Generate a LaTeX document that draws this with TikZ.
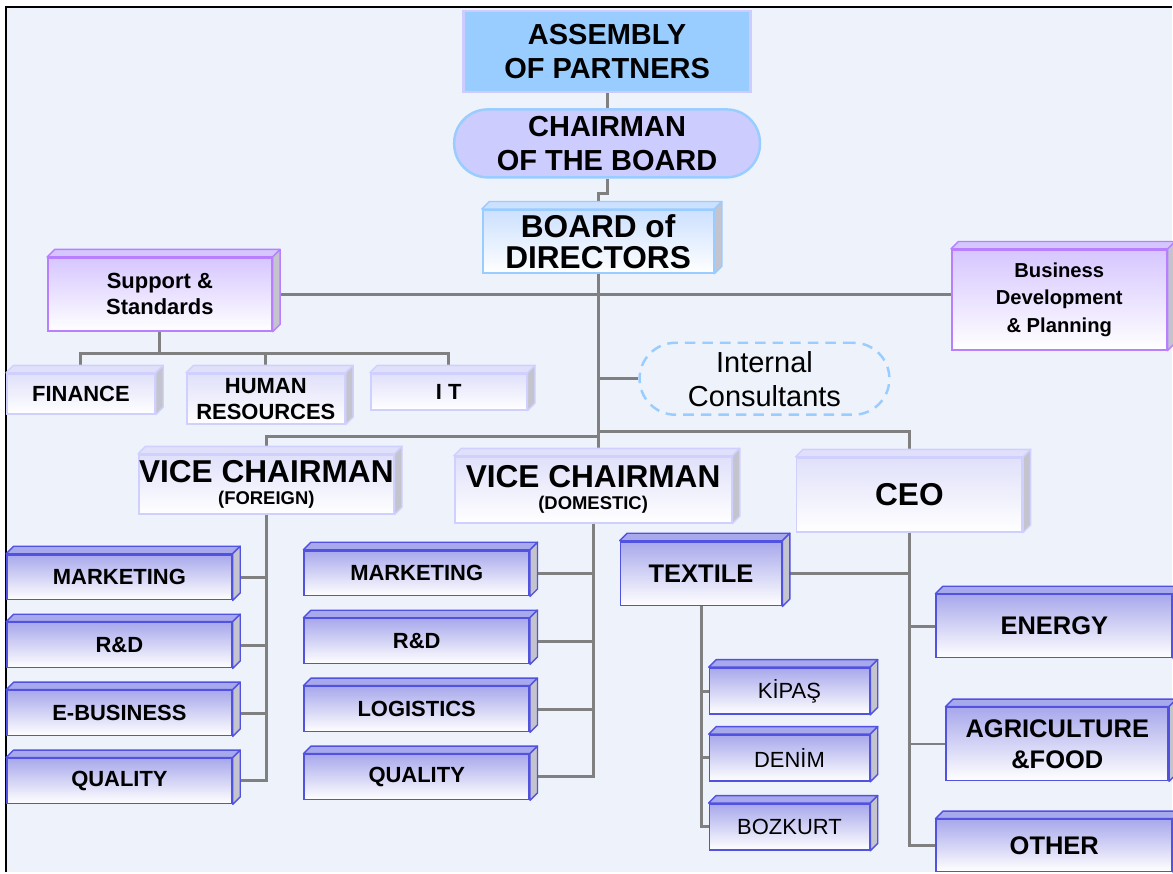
\documentclass[tikz,border=0pt]{standalone}
\usepackage{fontspec}
\setmainfont{Liberation Sans}

\definecolor{paper}{RGB}{238,242,251}
\definecolor{wire}{RGB}{128,128,128}
\definecolor{skyblue}{RGB}{153,204,255}
\definecolor{lilac}{RGB}{204,204,255}
\definecolor{boardtop}{RGB}{204,224,255}
\definecolor{deptline}{RGB}{82,82,224}
\definecolor{depttop}{RGB}{168,168,236}
\definecolor{officeline}{RGB}{208,208,255}
\definecolor{officetop}{RGB}{224,224,250}
\definecolor{staffline}{RGB}{184,128,255}
\definecolor{stafftop}{RGB}{214,198,255}
\definecolor{sidegray}{RGB}{196,196,206}

\tikzset{
  link/.style={draw=wire, line width=1.7pt},
  card/.style={rectangle, inner sep=0pt, align=center, line width=1pt},
  dept/.style={card, draw=deptline, top color=depttop, bottom color=white,
    minimum width=4.5cm, minimum height=0.9cm,
    font=\bfseries\fontsize{12.5}{14.8}\selectfont},
  bigdept/.style={dept, font=\bfseries\fontsize{14.5}{17.6}\selectfont},
  firm/.style={dept, minimum width=3.2cm, minimum height=0.92cm,
    font=\fontsize{12.5}{14.8}\selectfont},
  office/.style={card, draw=officeline, top color=officetop, bottom color=white,
    font=\bfseries\fontsize{12.5}{14.8}\selectfont},
  staff/.style={card, draw=staffline, top color=stafftop, bottom color=white,
    font=\bfseries\fontsize{12.5}{14.8}\selectfont},
}

% top and right faces of a box node: node, top colour, line colour
\newcommand{\boxtop}[3]{%
  \filldraw[fill=#2, draw=#3, line width=0.8pt, line join=round]
    (#1.north west) -- ++(0.15,0.15) -- ([shift={(0.15,0.15)}]#1.north east)
    -- (#1.north east) -- cycle;
  \filldraw[fill=sidegray, draw=#3, line width=0.8pt, line join=round]
    (#1.north east) -- ++(0.15,0.15) -- ([shift={(0.15,0.15)}]#1.south east)
    -- (#1.south east) -- cycle;
}

\begin{document}
\begin{tikzpicture}
  % page and frame
  \fill[white] (0,0) rectangle (23.46,17.46);
  \fill[paper] (0.12,0) rectangle (23.46,17.32);
  \draw[line width=0.9pt] (0.12,0) -- (0.12,17.32) -- (23.46,17.32);
  \useasboundingbox (0,0) rectangle (23.46,17.46);

  % top of the chart
  \node[card, draw=lilac, line width=1.4pt, fill=skyblue, minimum width=5.74cm, minimum height=1.62cm,
    font=\bfseries\fontsize{16.5}{19.4}\selectfont] (assembly) at (12.15,16.43) {ASSEMBLY\\OF PARTNERS};
  \node[card, draw=skyblue, line width=1.4pt, fill=lilac, rounded corners=0.67cm, minimum width=6.12cm,
    minimum height=1.36cm, font=\bfseries\fontsize{16.5}{19.4}\selectfont] (chairman) at (12.15,14.59) {CHAIRMAN\\OF THE BOARD};
  \node[card, draw=skyblue, top color=boardtop, bottom color=white, minimum width=4.62cm, minimum height=1.26cm,
    font=\bfseries\fontsize{18}{17.6}\selectfont] (board) at (11.97,12.63) {BOARD of\\DIRECTORS};

  % staff units
  \node[staff, minimum width=4.48cm, minimum height=1.46cm] (support) at (3.2,11.57) {Support \&\\Standards};
  \node[staff, minimum width=4.3cm, minimum height=2cm, font=\bfseries\fontsize{11.5}{15.4}\selectfont]
    (business) at (21.2,11.46) {Business\\Development\\\& Planning};
  \node[office, minimum width=2.96cm, minimum height=0.8cm] (finance) at (1.62,9.58) {FINANCE};
  \node[office, minimum width=3.16cm, minimum height=1cm] (human) at (5.32,9.48) {HUMAN\\RESOURCES};
  \node[office, minimum width=3.12cm, minimum height=0.72cm] (it) at (8.98,9.62) {I T};
  \node[draw=skyblue, line width=1.4pt, dash pattern=on 6pt off 4pt, rounded corners=0.72cm, minimum width=5cm,
    minimum height=1.44cm, align=center, inner sep=0pt, font=\fontsize{16.5}{19.4}\selectfont]
    (consult) at (15.3,9.88) {Internal\\Consultants};

  % vice chairmen and CEO
  \node[office, minimum width=5.06cm, minimum height=1.18cm, font=\bfseries\fontsize{18}{12.7}\selectfont]
    (vcforeign) at (5.33,7.77) {VICE CHAIRMAN\\\fontsize{10.5}{12.7}\selectfont(FOREIGN)};
  \node[office, minimum width=5.54cm, minimum height=1.32cm, font=\bfseries\fontsize{18}{12.3}\selectfont]
    (vcdomestic) at (11.87,7.66) {VICE CHAIRMAN\\\fontsize{10.5}{12.3}\selectfont(DOMESTIC)};
  \node[office, minimum width=4.52cm, minimum height=1.48cm, font=\bfseries\fontsize{18}{21}\selectfont]
    (ceo) at (18.2,7.56) {CEO};

  % foreign departments
  \node[dept] (fmarketing) at (2.39,5.91) {MARKETING};
  \node[dept] (frd) at (2.39,4.55) {R\&D};
  \node[dept] (febusiness) at (2.39,3.19) {E-BUSINESS};
  \node[dept] (fquality) at (2.39,1.83) {QUALITY};

  % domestic departments
  \node[dept] (dmarketing) at (8.34,5.99) {MARKETING};
  \node[dept] (drd) at (8.34,4.63) {R\&D};
  \node[dept] (dlogistics) at (8.34,3.27) {LOGISTICS};
  \node[dept] (dquality) at (8.34,1.91) {QUALITY};

  % business groups
  \node[bigdept, minimum width=3.22cm, minimum height=1.28cm] (textile) at (14.03,5.98) {TEXTILE};
  \node[bigdept, minimum width=4.72cm, minimum height=1.26cm] (energy) at (21.1,4.93) {ENERGY};
  \node[bigdept, minimum width=4.44cm, minimum height=1.46cm] (agri) at (21.16,2.57) {AGRICULTURE\\\&FOOD};
  \node[bigdept, minimum width=4.72cm, minimum height=1.04cm] (other) at (21.1,0.54) {OTHER};

  % textile companies
  \node[firm] (kipas) at (15.8,3.63) {KİPAŞ};
  \node[firm] (denim) at (15.8,2.29) {DENİM};
  \node[firm] (bozkurt) at (15.8,0.91) {BOZKURT};

  % connectors
  \coordinate (lbus) at (11.97,8.72);
  \coordinate (rbus) at (11.97,8.82);
  \draw[link] (assembly) -- (chairman);
  \draw[link] (chairman.south) -- ++(0,-0.3) -| (board.north);
  \draw[link] (board.south) -- (board.south |- vcdomestic.north);
  \draw[link] (support.east) -- (support.east -| business.west);
  \draw[link] (support.south) -- ++(0,-0.44) coordinate (sbus);
  \draw[link] (finance.north) |- (sbus) -| (it.north);
  \draw[link] (human.north) -- (human.north |- sbus);
  \draw[link] (consult.west -| board.south) -- (consult.west);
  \draw[link] (vcforeign.north) |- (lbus);
  \draw[link] (rbus) -| (ceo.north);

  \draw[link] (vcforeign.south) -- (vcforeign.south |- fquality.east) -- (fquality.east);
  \draw[link] (fmarketing.east) -- (fmarketing.east -| vcforeign.south);
  \draw[link] (frd.east) -- (frd.east -| vcforeign.south);
  \draw[link] (febusiness.east) -- (febusiness.east -| vcforeign.south);

  \draw[link] (vcdomestic.south) -- (vcdomestic.south |- dquality.east) -- (dquality.east);
  \draw[link] (dmarketing.east) -- (dmarketing.east -| vcdomestic.south);
  \draw[link] (drd.east) -- (drd.east -| vcdomestic.south);
  \draw[link] (dlogistics.east) -- (dlogistics.east -| vcdomestic.south);

  \draw[link] (ceo.south) -- (ceo.south |- other.west) -- (other.west);
  \draw[link] (textile.east) -- (textile.east -| ceo.south);
  \draw[link] (energy.west) -- (energy.west -| ceo.south);
  \draw[link] (agri.west) -- (agri.west -| ceo.south);

  \draw[link] (textile.south) -- (textile.south |- bozkurt.west) -- (bozkurt.west);
  \draw[link] (kipas.west) -- (kipas.west -| textile.south);
  \draw[link] (denim.west) -- (denim.west -| textile.south);

  % box faces
  \boxtop{board}{boardtop}{skyblue}
  \boxtop{support}{stafftop}{staffline}
  \boxtop{business}{stafftop}{staffline}
  \boxtop{finance}{officetop}{officeline}
  \boxtop{human}{officetop}{officeline}
  \boxtop{it}{officetop}{officeline}
  \boxtop{vcforeign}{officetop}{officeline}
  \boxtop{vcdomestic}{officetop}{officeline}
  \boxtop{ceo}{officetop}{officeline}
  \boxtop{fmarketing}{depttop}{deptline}
  \boxtop{frd}{depttop}{deptline}
  \boxtop{febusiness}{depttop}{deptline}
  \boxtop{fquality}{depttop}{deptline}
  \boxtop{dmarketing}{depttop}{deptline}
  \boxtop{drd}{depttop}{deptline}
  \boxtop{dlogistics}{depttop}{deptline}
  \boxtop{dquality}{depttop}{deptline}
  \boxtop{textile}{depttop}{deptline}
  \boxtop{energy}{depttop}{deptline}
  \boxtop{agri}{depttop}{deptline}
  \boxtop{other}{depttop}{deptline}
  \boxtop{kipas}{depttop}{deptline}
  \boxtop{denim}{depttop}{deptline}
  \boxtop{bozkurt}{depttop}{deptline}
\end{tikzpicture}
\end{document}
